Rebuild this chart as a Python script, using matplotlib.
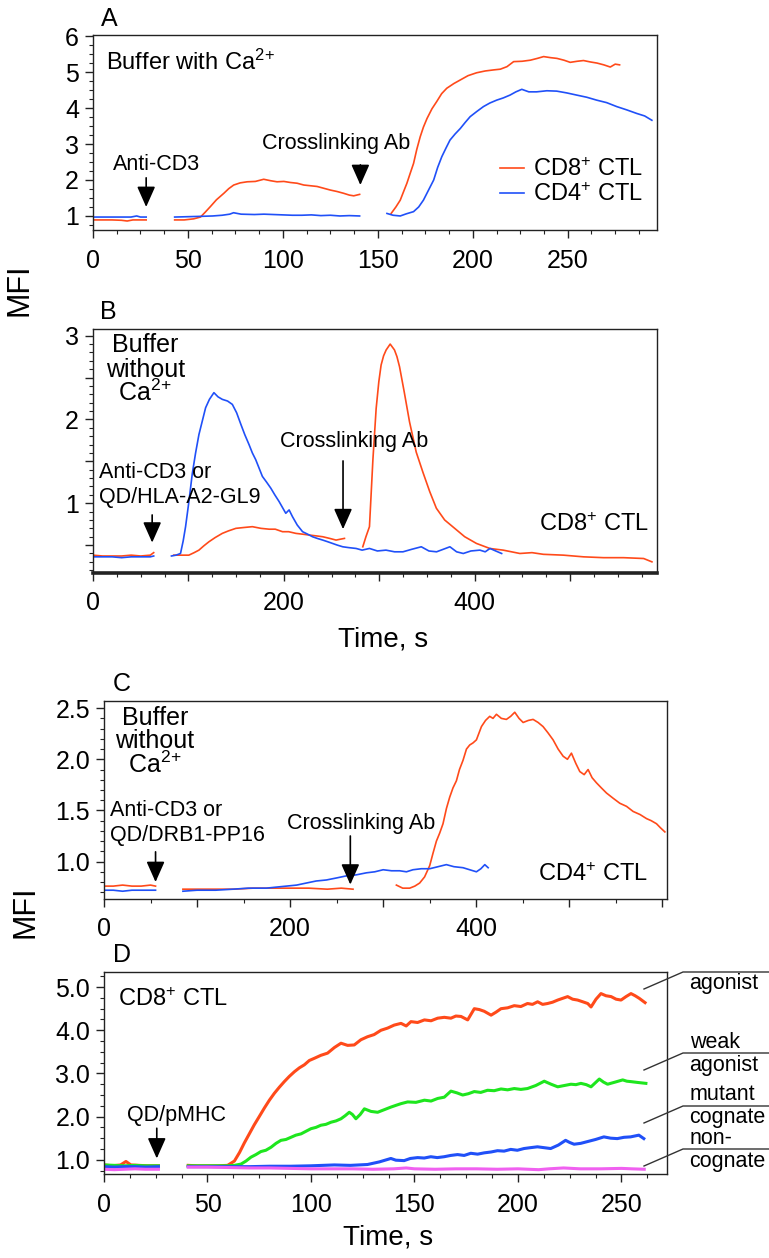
import numpy as np
import matplotlib
matplotlib.use("Agg")
import matplotlib.pyplot as plt
from matplotlib.ticker import MultipleLocator, FuncFormatter

plt.rcParams['font.family'] = 'Liberation Sans'
plt.rcParams['mathtext.fontset'] = 'custom'
plt.rcParams['mathtext.rm'] = 'Liberation Sans'
plt.rcParams['mathtext.it'] = 'Liberation Sans'

RED = '#ff4a1a'
BLUE = '#2050f8'
GREEN = '#1ee61e'
PINK = '#f060f0'

# (time s, MFI) readings, None = gap in the recording
a_cd8 = [(0, 0.89), (5, 0.89), (10, 0.89), (15, 0.88), (18, 0.86), (21, 0.89), (25, 0.89), (28, 0.89), None,
         (43, 0.89), (48, 0.89), (53, 0.92), (56.6, 0.97), (59, 1.10), (61.8, 1.26), (65, 1.45), (68.9, 1.63),
         (71.5, 1.76), (74.1, 1.86), (77.5, 1.92), (81.2, 1.95), (85.5, 1.96), (89.9, 2.02), (93.5, 1.98),
         (96.9, 1.95), (100.5, 1.96), (104, 1.93), (107.5, 1.91), (111, 1.86), (114.5, 1.84), (118, 1.82),
         (121.5, 1.77), (125, 1.72), (128.5, 1.68), (132, 1.63), (135, 1.58), (137.3, 1.56), (140.4, 1.60), None,
         (157, 1.07), (159.5, 1.25), (161.8, 1.44), (163.5, 1.67), (165.3, 1.91), (167, 2.18), (168.8, 2.46),
         (170.5, 2.85), (172.3, 3.20), (174, 3.47), (175.9, 3.71), (178.5, 3.98), (181, 4.18), (183.6, 4.40),
         (186.3, 4.55), (190, 4.68), (193.4, 4.78), (197.5, 4.90), (202, 4.98), (206.5, 5.03), (211, 5.06),
         (214.5, 5.08), (218, 5.15), (221.5, 5.29), (226, 5.30), (230.3, 5.33), (234, 5.38), (237.3, 5.43),
         (241, 5.40), (244.3, 5.38), (248, 5.33), (251.3, 5.27), (255, 5.30), (258.3, 5.32), (262, 5.28),
         (265.4, 5.25), (269, 5.20), (272.4, 5.14), (275, 5.22), (277.3, 5.20)]
a_cd4 = [(0, 0.97), (5, 0.97), (10, 0.97), (15, 0.97), (20, 0.97), (23, 1.00), (25, 0.97), (28, 0.97), None,
         (43, 0.97), (50, 0.98), (57, 0.99), (63, 1.00), (68, 1.02), (72, 1.05), (74, 1.09), (78, 1.05),
         (85, 1.04), (90, 1.05), (95, 1.04), (100, 1.03), (105, 1.02), (110, 1.02), (115, 1.03), (120, 1.01),
         (125, 1.02), (130, 1.00), (135, 1.01), (140.4, 1.00), None,
         (154.8, 1.07), (158, 1.02), (161.8, 1.00), (165, 1.06), (168.8, 1.12), (171.5, 1.25), (174, 1.44),
         (176.7, 1.72), (179.4, 2.00), (181.5, 2.35), (183.7, 2.65), (186, 2.90), (188, 3.11), (190.7, 3.28),
         (193.4, 3.43), (196, 3.60), (198.6, 3.76), (202, 3.90), (205.6, 4.04), (209, 4.14), (212.6, 4.22),
         (216, 4.28), (219.6, 4.36), (222.7, 4.45), (225.8, 4.52), (229.5, 4.45), (233.6, 4.45), (239, 4.48),
         (244.2, 4.47), (249.5, 4.42), (254.7, 4.36), (260, 4.30), (265.2, 4.22), (270.5, 4.15), (275.8, 4.04),
         (281, 3.95), (286.3, 3.85), (290.5, 3.78), (294.3, 3.66)]

b_cd8 = [(0, 0.38), (10, 0.37), (20, 0.37), (30, 0.37), (40, 0.38), (50, 0.37), (60, 0.38), (63.6, 0.41), None,
         (84.6, 0.38), (92, 0.38), (100.4, 0.38), (106, 0.41), (111, 0.44), (116, 0.49), (121.5, 0.54),
         (128, 0.59), (135.5, 0.64), (142, 0.67), (149.7, 0.70), (158, 0.71), (167, 0.72), (176, 0.70),
         (184.6, 0.69), (191, 0.69), (198.6, 0.66), (205, 0.66), (212.6, 0.64), (220, 0.63), (226.7, 0.62),
         (234, 0.61), (240.7, 0.60), (248, 0.58), (254.7, 0.56), (259, 0.57), (263.5, 0.58), None,
         (282.7, 0.48), (286, 0.60), (289.7, 0.72), (293.3, 1.52), (296.7, 2.13), (299.5, 2.45), (301.9, 2.65),
         (304.5, 2.76), (307.2, 2.83), (311.4, 2.90), (315.9, 2.83), (318.5, 2.75), (321.2, 2.63), (326.1, 2.33),
         (331.7, 1.97), (338.7, 1.61), (345.7, 1.37), (352.8, 1.14), (359.8, 0.94), (368.5, 0.80), (379, 0.70),
         (389.5, 0.60), (401.8, 0.52), (415.8, 0.46), (429.8, 0.44), (447.3, 0.40), (460, 0.41), (471.9, 0.39),
         (493, 0.38), (514, 0.36), (535, 0.35), (556, 0.35), (577, 0.34), (585.7, 0.30)]
b_cd4 = [(0, 0.36), (10, 0.36), (20, 0.36), (30, 0.35), (40, 0.36), (50, 0.36), (60, 0.36), (63.6, 0.37), None,
         (82.2, 0.37), (87, 0.38), (91.7, 0.40), (94.5, 0.55), (97, 0.72), (100.5, 1.02), (104, 1.35),
         (107.5, 1.60), (111, 1.82), (114.5, 1.98), (118, 2.14), (122, 2.24), (126.7, 2.32), (131, 2.27),
         (135.5, 2.24), (141, 2.22), (146, 2.18), (150.5, 2.08), (155, 1.94), (159, 1.82), (163.5, 1.70),
         (167, 1.60), (170.5, 1.52), (174, 1.42), (177.5, 1.32), (182, 1.25), (186.3, 1.18), (190.5, 1.10),
         (195, 1.02), (198.5, 0.95), (202, 0.88), (205.5, 0.92), (209, 0.84), (214, 0.74), (219.6, 0.66),
         (225, 0.63), (230, 0.60), (235, 0.58), (240.7, 0.56), (246, 0.54), (251, 0.52), (256, 0.50),
         (261.7, 0.48), (268, 0.47), (275.7, 0.46), (282, 0.44), (289.7, 0.46), (298, 0.43), (307, 0.44),
         (316, 0.42), (324.8, 0.42), (334, 0.45), (344, 0.48), (352, 0.43), (360, 0.42), (367, 0.45),
         (374, 0.48), (381, 0.42), (388, 0.40), (396, 0.43), (405.4, 0.44), (411, 0.42), (416, 0.46),
         (422, 0.43), (428.2, 0.40)]

c_red = [(0, 0.76), (10, 0.76), (20, 0.77), (30, 0.76), (40, 0.76), (50, 0.77), (55.4, 0.76), None,
         (84.8, 0.73), (100, 0.73), (120, 0.73), (140, 0.73), (160, 0.74), (180, 0.74), (200, 0.74),
         (220, 0.74), (240, 0.73), (255, 0.74), (267.6, 0.73), None,
         (314.2, 0.77), (321, 0.74), (328.5, 0.74), (334, 0.76), (339.2, 0.79), (344.5, 0.85), (350, 0.96),
         (353.5, 1.08), (357.2, 1.20), (360.8, 1.28), (364.3, 1.37), (368, 1.52), (371.5, 1.63), (375, 1.72),
         (378.7, 1.79), (382, 1.90), (385.8, 1.99), (389.5, 2.10), (393, 2.14), (396.5, 2.16), (400.2, 2.19),
         (405.6, 2.32), (410, 2.38), (414.5, 2.42), (418, 2.40), (421.7, 2.44), (427, 2.40), (432.4, 2.39),
         (437, 2.42), (441.4, 2.46), (446, 2.40), (450.4, 2.36), (456, 2.38), (461.1, 2.39), (466.5, 2.36),
         (471.8, 2.32), (477, 2.26), (482.6, 2.19), (488, 2.10), (493.4, 2.03), (498, 2.00), (502.3, 2.06),
         (507, 1.96), (511.3, 1.88), (516, 1.85), (520.2, 1.90), (524.5, 1.82), (529.2, 1.77), (534.5, 1.72),
         (540, 1.67), (547, 1.62), (554.3, 1.57), (561.5, 1.54), (568.6, 1.49), (576, 1.46), (583, 1.42),
         (588, 1.40), (593.7, 1.37), (598, 1.33), (602.7, 1.29)]
c_blue = [(0, 0.72), (10, 0.72), (20, 0.71), (30, 0.72), (40, 0.72), (50, 0.72), (55.4, 0.72), None,
          (84.8, 0.71), (100, 0.72), (120, 0.72), (138.5, 0.73), (155, 0.74), (174.4, 0.74), (185, 0.75),
          (196, 0.76), (207, 0.77), (217.4, 0.79), (228, 0.81), (239, 0.82), (250, 0.84), (260.4, 0.86),
          (271, 0.87), (282, 0.89), (291, 0.90), (300, 0.92), (309, 0.91), (317.7, 0.91), (325, 0.90),
          (332, 0.92), (341, 0.93), (350, 0.93), (359, 0.95), (367.9, 0.97), (376, 0.95), (385.8, 0.94),
          (393, 0.92), (400.2, 0.90), (405, 0.93), (409.2, 0.97), (412.8, 0.94)]

d_agonist = [(0, 0.88), (4, 0.86), (8, 0.88), (10.6, 0.96), (13, 0.88), (17, 0.87), (21, 0.86), (26.3, 0.86), None,
             (40.7, 0.87), (45, 0.86), (50, 0.86), (55, 0.86), (59.7, 0.87), (63, 0.97), (65.5, 1.17),
             (67.8, 1.39), (70.2, 1.60), (72.6, 1.81), (75, 2.00), (77.5, 2.20), (79.9, 2.38), (82.3, 2.54),
             (84.7, 2.68), (87.1, 2.81), (89.5, 2.93), (92, 3.04), (94.4, 3.13), (96.8, 3.20), (99.2, 3.30),
             (101.6, 3.35), (104.8, 3.42), (108, 3.47), (111.3, 3.60), (114.5, 3.70), (117.7, 3.65),
             (120.9, 3.66), (124.1, 3.78), (127.3, 3.85), (130.5, 3.90), (133.8, 4.00), (137, 4.05),
             (140.2, 4.12), (143.5, 4.16), (146, 4.10), (148.3, 4.20), (151.5, 4.18), (154.8, 4.24),
             (158, 4.22), (161.2, 4.28), (164.4, 4.30), (167.6, 4.28), (170, 4.33), (172.5, 4.32),
             (175.7, 4.24), (178.9, 4.50), (181.3, 4.48), (183.7, 4.44), (187, 4.35), (189.4, 4.42),
             (191.8, 4.50), (195, 4.52), (198.2, 4.57), (201.4, 4.55), (204.6, 4.62), (207, 4.60),
             (209.5, 4.66), (211.9, 4.60), (214.3, 4.62), (216.7, 4.65), (219.2, 4.70), (221.6, 4.74),
             (224, 4.78), (226.4, 4.72), (228.8, 4.70), (231.3, 4.66), (233.7, 4.62), (235.3, 4.54),
             (237.7, 4.72), (240.1, 4.85), (242.5, 4.80), (245, 4.78), (247.4, 4.72), (249.8, 4.70),
             (252.2, 4.78), (254.6, 4.85), (256.6, 4.80), (258.6, 4.74), (261.4, 4.64)]
d_weak = [(0, 0.88), (5, 0.87), (10, 0.86), (15, 0.87), (20, 0.86), (26.3, 0.86), None,
          (40.7, 0.86), (50, 0.86), (60, 0.86), (63, 0.87), (66.2, 0.90), (68.6, 0.97), (71, 1.06), (73.4, 1.12),
          (75.8, 1.19), (78.2, 1.22), (80.7, 1.29), (83.1, 1.38), (85.5, 1.45), (87.9, 1.47), (90.3, 1.52),
          (92.7, 1.57), (95.2, 1.60), (97.6, 1.66), (100, 1.72), (102.4, 1.75), (104.8, 1.80), (107.2, 1.82),
          (109.7, 1.87), (112.1, 1.90), (114.5, 1.95), (116.5, 2.02), (118.5, 2.10), (120, 2.05), (121.7, 1.95),
          (123.8, 2.05), (125.8, 2.18), (129, 2.12), (132.2, 2.10), (135.4, 2.16), (138.6, 2.22), (141, 2.26),
          (143.5, 2.30), (146.7, 2.34), (150.7, 2.33), (154.8, 2.38), (158, 2.36), (161.2, 2.42), (164.4, 2.45),
          (167.6, 2.59), (170.5, 2.55), (173.3, 2.50), (176, 2.53), (178.9, 2.58), (182, 2.56), (185.3, 2.61),
          (188.5, 2.60), (191.8, 2.64), (195, 2.62), (198.2, 2.65), (201.4, 2.63), (204.6, 2.65), (208.6, 2.72),
          (212.7, 2.82), (216, 2.75), (219.2, 2.69), (222.4, 2.72), (225.6, 2.75), (228, 2.74), (230.4, 2.77),
          (233, 2.74), (235.3, 2.69), (237.3, 2.78), (239.3, 2.87), (241.3, 2.80), (243.3, 2.75), (247, 2.80),
          (250.6, 2.85), (252.6, 2.82), (254.6, 2.81), (258, 2.79), (261.8, 2.77)]
d_mutant = [(0, 0.84), (5, 0.83), (10, 0.84), (15, 0.84), (20, 0.83), (26.3, 0.84), None,
            (40.7, 0.84), (50, 0.84), (60, 0.84), (70, 0.84), (80, 0.85), (90, 0.85), (100, 0.86), (111.3, 0.88),
            (119, 0.87), (127.3, 0.89), (133, 0.95), (138.6, 1.03), (141, 0.99), (145, 0.98), (148, 1.03),
            (151.5, 1.05), (154.7, 1.04), (157.9, 1.07), (161, 1.05), (164.3, 1.07), (167.5, 1.10), (170.8, 1.12),
            (174, 1.10), (177.2, 1.15), (180.5, 1.13), (183.7, 1.16), (187, 1.18), (190.1, 1.21), (193.3, 1.20),
            (196.5, 1.24), (199.7, 1.22), (202.9, 1.26), (206, 1.28), (209.4, 1.30), (212.6, 1.28), (215.8, 1.26),
            (219.5, 1.34), (223, 1.45), (225, 1.40), (227.1, 1.36), (230.3, 1.38), (233.5, 1.42), (237.5, 1.47),
            (241.5, 1.53), (244.8, 1.50), (248, 1.49), (251.2, 1.52), (254.4, 1.53), (258.4, 1.57), (260.8, 1.49)]
d_noncog = [(0, 0.78), (5, 0.77), (10, 0.78), (15, 0.79), (20, 0.78), (26.3, 0.78), None,
            (40.7, 0.83), (50, 0.83), (60, 0.82), (70, 0.81), (80, 0.81), (90, 0.80), (100, 0.79), (110, 0.79),
            (120, 0.79), (130, 0.78), (140, 0.79), (146, 0.81), (150, 0.79), (160, 0.78), (170, 0.79),
            (180, 0.79), (190, 0.78), (200, 0.79), (210, 0.77), (215, 0.79), (222, 0.81), (230, 0.79),
            (240, 0.79), (250, 0.80), (255, 0.79), (261, 0.78)]

W, H = 769, 1258
CA = 'Ca$^{2}$$^{+}$'


def box(l, t, r, b):
    return [l / W, 1 - b / H, (r - l) / W, (b - t) / H]


def P(x, y):
    return x / W, 1 - y / H


def xy(pairs):
    t = np.array([np.nan if p is None else p[0] for p in pairs])
    v = np.array([np.nan if p is None else p[1] for p in pairs])
    return t, v


def every(step, shown):
    return FuncFormatter(lambda x, pos: ('%g' % x) if any(abs(x - s) < 1e-6 for s in shown) else '')


def arrow(ax, t, v_tail, v_tip):
    ax.annotate('', xy=(t, v_tip), xytext=(t, v_tail),
                arrowprops=dict(arrowstyle='-|>,head_length=0.9,head_width=0.4', color='k',
                                lw=1.2, mutation_scale=14, shrinkA=0, shrinkB=0))


def style(ax, xpad, ypad):
    for s in ax.spines.values():
        s.set_linewidth(1.0)
        s.set_color('#222222')
    ax.tick_params(which='both', direction='out', labelsize=18, color='#222222')
    ax.tick_params(which='major', length=6, width=1)
    ax.tick_params(which='minor', length=3, width=0.8)
    ax.tick_params(axis='x', pad=xpad)
    ax.tick_params(axis='y', pad=ypad)


fig = plt.figure(figsize=(7.69, 12.58), dpi=100)

# ---- A
axA = fig.add_axes(box(93, 35, 657, 230))
t, v = xy(a_cd8)
axA.plot(t, v, color=RED, lw=1.2, label='CD8$^{+}$ CTL')
t, v = xy(a_cd4)
axA.plot(t, v, color=BLUE, lw=1.2, label='CD4$^{+}$ CTL')
axA.set_xlim(0, 297)
axA.set_ylim(0.61, 6.03)
axA.xaxis.set_major_locator(MultipleLocator(50))
axA.xaxis.set_minor_locator(MultipleLocator(12.5))
axA.yaxis.set_major_locator(MultipleLocator(1))
axA.yaxis.set_minor_locator(MultipleLocator(0.25))
style(axA, 8, 4)
axA.legend(loc='upper left', bbox_to_anchor=P(500, 158), bbox_transform=fig.transFigure,
           frameon=False, fontsize=17, handlelength=1.0, handletextpad=0.4, labelspacing=0.1,
           borderpad=0, borderaxespad=0)
arrow(axA, 28, 2.06, 1.25)
arrow(axA, 140.8, 2.42, 1.86)
fig.text(*P(106, 62), 'Buffer with ' + CA, fontsize=17, va='center', ha='left')
fig.text(*P(157, 165), 'Anti-CD3', fontsize=15.5, va='center', ha='center')
fig.text(*P(336, 143), 'Crosslinking Ab', fontsize=15.5, va='center', ha='center')
fig.text(*P(109, 19), 'A', fontsize=18, va='center', ha='center')

# ---- B
axB = fig.add_axes(box(93, 329, 657, 573))
t, v = xy(b_cd8)
axB.plot(t, v, color=RED, lw=1.2)
t, v = xy(b_cd4)
axB.plot(t, v, color=BLUE, lw=1.2)
axB.set_xlim(0, 591)
axB.set_ylim(0.167, 3.08)
axB.xaxis.set_major_locator(MultipleLocator(100))
axB.xaxis.set_minor_locator(MultipleLocator(25))
axB.xaxis.set_major_formatter(every(100, [0, 200, 400]))
axB.yaxis.set_major_locator(MultipleLocator(0.5))
axB.yaxis.set_minor_locator(MultipleLocator(0.1))
axB.yaxis.set_major_formatter(every(0.5, [1, 2, 3]))
style(axB, 7, 4)
axB.spines['bottom'].set_linewidth(2.6)
arrow(axB, 62, 0.86, 0.53)
arrow(axB, 262, 1.505, 0.69)
for yy, s in [(345, 'Buffer'), (370, 'without'), (393, CA)]:
    fig.text(*P(145.5, yy), s, fontsize=18, va='center', ha='center')
fig.text(*P(99, 472), 'Anti-CD3 or', fontsize=15.5, va='center', ha='left')
fig.text(*P(99, 497), 'QD/HLA-A2-GL9', fontsize=15.5, va='center', ha='left')
fig.text(*P(280, 442), 'Crosslinking Ab', fontsize=15.5, va='center', ha='left')
fig.text(*P(649, 525), 'CD8$^{+}$ CTL', fontsize=17, va='center', ha='right')
fig.text(*P(108, 312), 'B', fontsize=18, va='center', ha='center')
fig.text(*P(383, 640), 'Time, s', fontsize=20, va='center', ha='center')
fig.text(*P(20, 290), 'MFI', fontsize=22, va='center', ha='center', rotation=90)

# ---- C
axC = fig.add_axes(box(104, 701, 667, 899))
t, v = xy(c_red)
axC.plot(t, v, color=RED, lw=1.2)
t, v = xy(c_blue)
axC.plot(t, v, color=BLUE, lw=1.2)
axC.set_xlim(0, 605)
axC.set_ylim(0.634, 2.57)
axC.xaxis.set_major_locator(MultipleLocator(100))
axC.xaxis.set_minor_locator(MultipleLocator(50))
axC.xaxis.set_major_formatter(every(100, [0, 200, 400]))
axC.yaxis.set_major_locator(MultipleLocator(0.5))
axC.yaxis.set_minor_locator(MultipleLocator(0.1))
axC.yaxis.set_major_formatter(FuncFormatter(lambda x, pos: '%.1f' % x))
style(axC, 7, 4)
arrow(axC, 55.4, 1.095, 0.80)
arrow(axC, 264.7, 1.25, 0.775)
for yy, s in [(718, 'Buffer'), (741, 'without'), (765, CA)]:
    fig.text(*P(155, yy), s, fontsize=18, va='center', ha='center')
fig.text(*P(110, 810), 'Anti-CD3 or', fontsize=15.5, va='center', ha='left')
fig.text(*P(110, 835), 'QD/DRB1-PP16', fontsize=15.5, va='center', ha='left')
fig.text(*P(287, 823), 'Crosslinking Ab', fontsize=15.5, va='center', ha='left')
fig.text(*P(648, 875), 'CD4$^{+}$ CTL', fontsize=17, va='center', ha='right')
fig.text(*P(122, 684), 'C', fontsize=18, va='center', ha='center')
fig.text(*P(25, 912), 'MFI', fontsize=22, va='center', ha='center', rotation=90)

# ---- D
axD = fig.add_axes(box(104, 972, 667, 1174))
for data, c in [(d_agonist, RED), (d_weak, GREEN), (d_mutant, BLUE), (d_noncog, PINK)]:
    t, v = xy(data)
    axD.plot(t, v, color=c, lw=2.2)
axD.set_xlim(0, 272)
axD.set_ylim(0.67, 5.35)
axD.xaxis.set_major_locator(MultipleLocator(50))
axD.xaxis.set_minor_locator(MultipleLocator(12.5))
axD.yaxis.set_major_locator(MultipleLocator(1))
axD.yaxis.set_minor_locator(MultipleLocator(0.25))
axD.yaxis.set_major_formatter(FuncFormatter(lambda x, pos: '%.1f' % x))
style(axD, 8, 4)
arrow(axD, 25.5, 1.73, 1.03)
fig.text(*P(118, 1000), 'CD8$^{+}$ CTL', fontsize=17, va='center', ha='left')
fig.text(*P(176, 1115), 'QD/pMHC', fontsize=15.5, va='center', ha='center')
fig.text(*P(122, 955), 'D', fontsize=18, va='center', ha='center')
fig.text(*P(388, 1238), 'Time, s', fontsize=20, va='center', ha='center')

# labels to the right of panel D
tags = [(989, 972, ['', 'agonist']), (1070, 1053, ['weak', 'agonist']),
        (1123, 1106, ['mutant', 'cognate']), (1166, 1149, ['non-', 'cognate'])]
for y0, y1, words in tags:
    fig.add_artist(plt.Line2D([644 / W, 683 / W, 769 / W], [1 - y0 / H, 1 - y1 / H, 1 - y1 / H],
                              color='#333333', lw=1.0))
    if words[0]:
        fig.text(*P(690, y1 - 11), words[0], fontsize=15.5, va='center', ha='left')
    fig.text(*P(689, y1 + 12), words[1], fontsize=15.5, va='center', ha='left')

fig.savefig('out.png', dpi=100)
